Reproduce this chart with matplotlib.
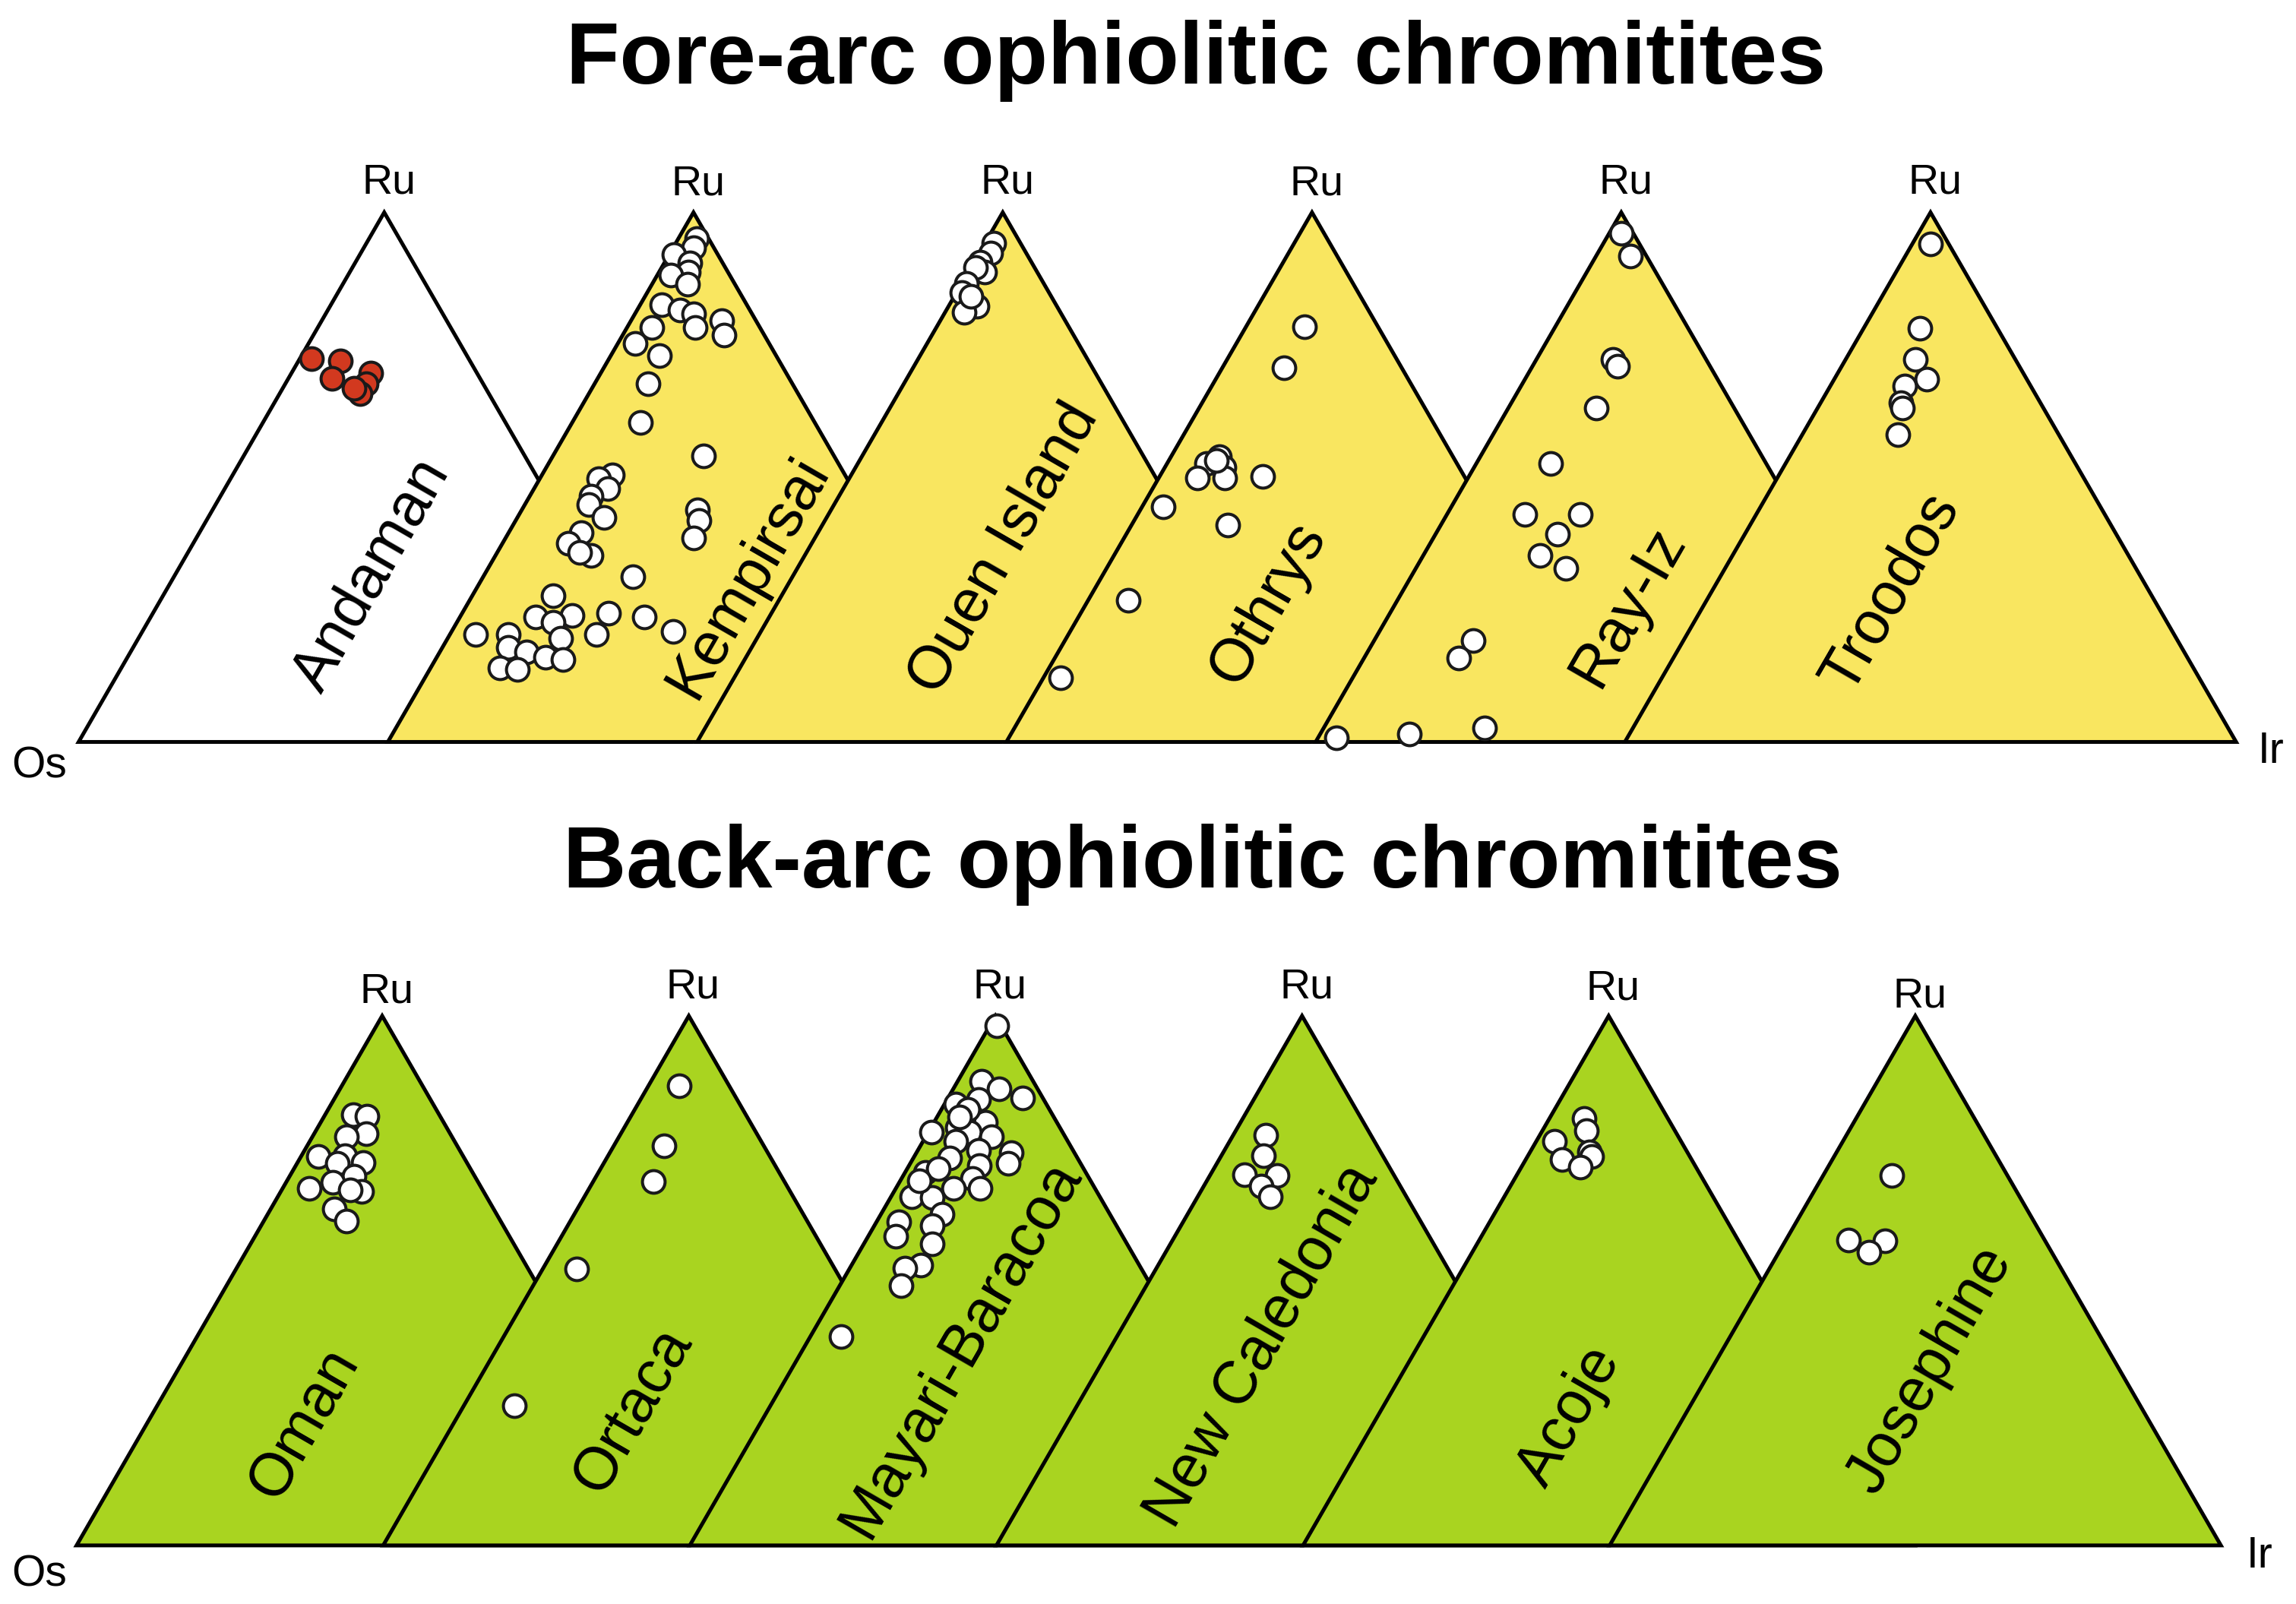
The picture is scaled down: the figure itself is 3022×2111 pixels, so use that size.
import numpy as np
import matplotlib
matplotlib.use('Agg')
from matplotlib import pyplot as plt
from matplotlib.patches import Polygon

plt.rcParams['font.family'] = ['Liberation Sans', 'DejaVu Sans']

# Os-Ru-Ir compositions (Os, Ru, Ir in %)
andaman = [(25.7, 72.4, 1.9), (21.2, 71.9, 6.9), (24.2, 68.7, 7.1), (17.3, 69.7, 13.0),
           (19.1, 67.6, 13.3), (21.1, 65.8, 13.1), (21.5, 66.8, 11.7)]
kempirsai = [(1.9, 95.1, 3.0), (3.3, 93.4, 3.3), (7.1, 92.1, 0.8), (5.4, 90.4, 4.2),
             (6.5, 88.8, 4.7), (9.7, 88.1, 2.2), (7.7, 86.5, 5.8), (14.0, 82.5, 3.5),
             (11.4, 81.5, 7.1), (9.6, 80.8, 9.6), (5.6, 79.5, 14.9), (10.6, 78.2, 11.2),
             (6.6, 76.9, 16.5), (17.7, 78.2, 4.1), (22.0, 75.2, 2.8), (19.1, 72.9, 8.0),
             (23.6, 67.6, 8.8), (28.5, 60.3, 11.2), (21.4, 54.0, 24.6), (38.1, 50.4, 11.5),
             (40.7, 49.7, 9.6), (40.1, 47.8, 12.1), (43.6, 46.4, 10.0), (44.7, 44.8, 10.5),
             (43.4, 42.4, 14.2), (48.6, 39.5, 11.9), (51.7, 37.5, 10.8), (49.2, 35.2, 15.6),
             (50.7, 35.8, 13.5), (27.5, 43.8, 28.7), (28.2, 41.8, 30.0), (30.7, 38.5, 30.8),
             (44.3, 31.2, 24.5), (59.2, 27.6, 13.2), (64.0, 23.6, 12.4), (57.9, 23.9, 18.2),
             (61.7, 22.6, 15.7), (51.8, 24.3, 23.9), (55.7, 20.3, 24.0), (75.5, 20.3, 4.2),
             (70.2, 20.3, 9.5), (61.9, 19.6, 18.5), (71.4, 17.9, 10.7), (68.8, 17.0, 14.2),
             (66.2, 16.0, 17.8), (63.6, 15.6, 20.8), (74.7, 14.0, 11.3), (72.0, 13.7, 14.3),
             (46.3, 23.6, 30.1), (42.9, 20.9, 36.2)]
ouen_island = [(4.4, 94.2, 1.4), (5.8, 92.3, 1.9), (8.4, 90.6, 1.0), (8.5, 88.8, 2.7),
               (9.6, 89.6, 0.8), (12.6, 86.6, 0.8), (14.2, 84.9, 0.9), (13.0, 82.3, 4.7),
               (15.8, 81.1, 3.1), (13.1, 84.2, 2.7)]
othrys = [(12.0, 78.4, 9.6), (19.3, 70.6, 10.1), (38.2, 53.9, 7.9), (40.9, 52.6, 6.5),
          (38.5, 51.9, 9.6), (43.8, 49.8, 6.4), (39.4, 49.8, 10.8), (33.0, 50.2, 16.8),
          (52.2, 44.4, 3.4), (43.3, 41.0, 15.7), (66.7, 26.7, 6.6), (85.1, 12.1, 2.8),
          (39.1, 53.2, 7.7)]
ray_iz = [(1.9, 96.1, 2.0), (2.7, 91.7, 5.6), (15.2, 72.3, 12.5), (15.2, 70.9, 13.9),
          (22.6, 63.1, 14.3), (35.3, 52.6, 12.1), (44.3, 43.0, 12.7), (35.2, 43.0, 21.8),
          (40.8, 39.3, 19.9), (45.7, 35.2, 19.1), (42.7, 32.8, 24.5), (64.6, 19.2, 16.2),
          (68.7, 15.8, 15.5), (71.1, 2.6, 26.3), (83.9, 1.5, 14.6), (96.2, 0.8, 3.0)]
troodos = [(3.0, 94.1, 2.9), (12.7, 78.1, 9.2), (16.3, 72.3, 11.4), (16.4, 68.5, 15.1),
           (20.6, 67.2, 12.2), (22.8, 64.1, 13.1), (23.0, 63.1, 13.9), (26.3, 58.0, 15.7)]

oman = [(14.0, 81.4, 4.6), (11.9, 81.1, 7.0), (13.8, 77.7, 8.5), (17.2, 77.2, 5.6),
        (23.8, 73.4, 2.8), (19.3, 73.6, 7.1), (21.3, 72.1, 6.6), (16.9, 72.3, 10.8),
        (19.8, 69.7, 10.5), (23.8, 68.5, 7.7), (28.2, 67.4, 4.4), (19.9, 66.9, 13.2),
        (21.6, 67.2, 11.2), (26.0, 63.6, 10.4), (25.2, 61.2, 13.6)]
ortaca = [(8.2, 86.8, 5.0), (16.3, 75.4, 8.3), (21.4, 68.7, 9.9), (42.2, 52.2, 5.6),
          (65.4, 26.4, 8.2)]
mayari_baracoa = [(0.7, 98.2, 1.1), (8.5, 87.6, 3.9), (6.3, 86.2, 7.5), (3.3, 84.5, 12.2),
                  (10.6, 84.2, 5.2), (14.8, 83.3, 1.9), (13.5, 81.3, 5.2), (11.7, 79.9, 8.4),
                  (16.8, 78.9, 4.3), (15.2, 78.0, 6.8), (12.1, 77.2, 10.7), (21.5, 78.0, 0.5),
                  (18.3, 76.3, 5.4), (15.4, 74.6, 10.0), (20.9, 73.1, 6.0), (10.4, 74.1, 15.5),
                  (11.8, 72.2, 16.0), (16.8, 71.7, 11.5), (26.2, 70.5, 3.3), (19.1, 69.3, 11.6),
                  (23.2, 67.4, 9.4), (18.8, 67.4, 13.8), (30.8, 65.9, 3.3), (27.5, 65.7, 6.8),
                  (27.5, 62.5, 10.0), (35.3, 61.1, 3.6), (37.1, 58.4, 4.5), (30.1, 60.4, 9.5),
                  (31.9, 57.0, 11.1), (35.8, 52.9, 11.3), (38.6, 52.4, 9.0), (40.9, 49.1, 10.0),
                  (55.6, 39.4, 5.0), (23.8, 71.2, 5.0), (13.4, 82.3, 4.3), (15.4, 80.9, 3.7),
                  (28.1, 68.8, 3.1)]
new_caledonia = [(17.2, 77.5, 5.3), (19.5, 73.6, 6.9), (24.4, 70.0, 5.6), (19.2, 69.8, 11.0),
                 (22.8, 67.8, 9.4), (22.2, 65.9, 11.9)]
acoje = [(13.7, 80.6, 5.7), (14.4, 78.4, 7.2), (20.7, 76.3, 3.0), (16.0, 74.3, 9.7),
         (21.2, 72.9, 5.9), (16.1, 73.4, 10.5), (19.0, 71.4, 9.6)]
josephine = [(19.0, 69.8, 11.2), (32.1, 57.7, 10.2), (26.2, 57.5, 16.3), (29.9, 55.3, 14.8)]

fore_arc_names = ['Andaman', 'Kempirsai', 'Ouen Island', 'Othrys', 'Ray-Iz', 'Troodos']
fore_arc_data = [andaman, kempirsai, ouen_island, othrys, ray_iz, troodos]
back_arc_names = ['Oman', 'Ortaca', 'Mayari-Baracoa', 'New Caledonia', 'Acoje', 'Josephine']
back_arc_data = [oman, ortaca, mayari_baracoa, new_caledonia, acoje, josephine]

YELLOW = '#f9e660'
GREEN = '#a9d420'
RED = '#d2391f'

fig = plt.figure(figsize=(30.22, 21.11), dpi=100)
ax = fig.add_axes([0, 0, 1, 1])
ax.set_xlim(0, 1568)
ax.set_ylim(1095, 0)
ax.axis('off')


def ternary_xy(comps, x_left, y_base, height):
    c = np.asarray(comps, dtype=float)
    total = c.sum(axis=1)
    ru = c[:, 1] / total
    ir = c[:, 2] / total
    width = 2 * height / np.sqrt(3)
    return x_left + width * (ir + ru / 2), y_base - height * ru


def draw_row(names, datasets, apex_x0, step, apex_y, base_y, fills, point_colors,
             label_pos, ru_dy):
    height = base_y - apex_y
    half = height / np.sqrt(3)
    z = 2
    for i, (name, data) in enumerate(zip(names, datasets)):
        ax_x = apex_x0 + i * step
        tri = Polygon([(ax_x - half, base_y), (ax_x + half, base_y), (ax_x, apex_y)],
                      closed=True, facecolor=fills[i], edgecolor='black',
                      linewidth=3.6, joinstyle='miter', zorder=z)
        ax.add_patch(tri)
        x, y = ternary_xy(data, ax_x - half, base_y, height)
        ax.scatter(x, y, s=460, facecolor=point_colors[i], edgecolor='#1a1a1a',
                   linewidth=2.9, zorder=z + 1)
        z += 2
        ax.text(ax_x + 3, apex_y - ru_dy[i], 'Ru', fontsize=40, ha='center',
                va='baseline', zorder=50)
        lx, ly = label_pos[i]
        ax.text(lx, ly, name, fontsize=57, rotation=60, rotation_mode='anchor',
                ha='center', va='center', zorder=50)


# fore-arc row
draw_row(fore_arc_names, fore_arc_data, 262.4, 211.2, 145, 506.5,
         ['white'] + [YELLOW] * 5, [RED] + ['white'] * 5,
         [(254, 393), (511, 394), (686, 375), (866, 412), (1112, 414), (1292, 405)],
         [13, 12, 13, 12, 13, 13])
ax.text(27, 531, 'Os', fontsize=41, ha='center', va='baseline', zorder=50)
ax.text(1551, 521, 'Ir', fontsize=41, ha='center', va='baseline', zorder=50)

# back-arc row
draw_row(back_arc_names, back_arc_data, 261, 209.4, 693.5, 1055,
         [GREEN] * 6, ['white'] * 6,
         [(208, 972), (432, 963), (656, 921), (862, 919), (1072, 967), (1318, 935)],
         [9, 12, 12, 12, 11, 6])
ax.text(27, 1083, 'Os', fontsize=41, ha='center', va='baseline', zorder=50)
ax.text(1543, 1070, 'Ir', fontsize=41, ha='center', va='baseline', zorder=50)

ax.text(816.5, 57, 'Fore-arc ophiolitic chromitites', fontsize=83, fontweight='bold',
        ha='center', va='baseline')
ax.text(821.5, 606, 'Back-arc ophiolitic chromitites', fontsize=83, fontweight='bold',
        ha='center', va='baseline')

fig.savefig('out.png', dpi=100)
